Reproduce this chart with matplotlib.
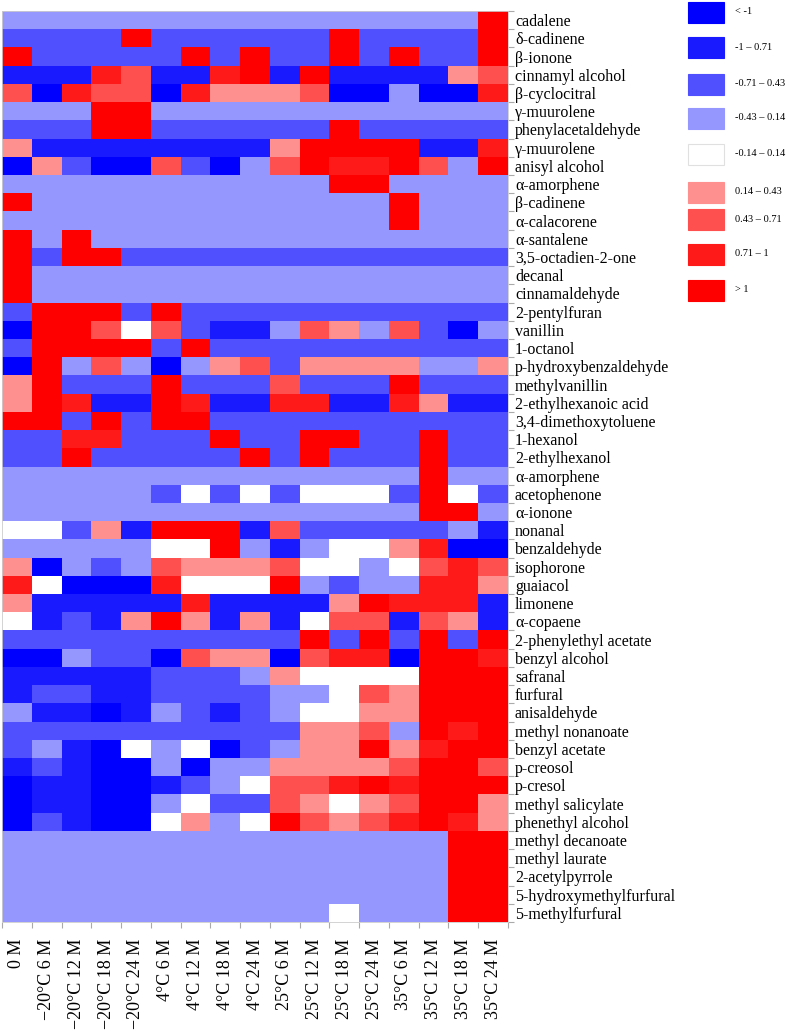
import numpy as np
import matplotlib.pyplot as plt
from matplotlib.colors import ListedColormap, BoundaryNorm
from matplotlib.patches import Rectangle

plt.rcParams['font.family'] = ['Liberation Serif', 'DejaVu Serif']

samples = ['0 M', '−20°C 6 M', '−20°C 12 M', '−20°C 18 M', '−20°C 24 M',
           '4°C 6 M', '4°C 12 M', '4°C 18 M', '4°C 24 M',
           '25°C 6 M', '25°C 12 M', '25°C 18 M', '25°C 24 M',
           '35°C 6 M', '35°C 12 M', '35°C 18 M', '35°C 24 M']

compounds = ['cadalene', 'δ-cadinene', 'β-ionone', 'cinnamyl alcohol', 'β-cyclocitral',
             'γ-muurolene', 'phenylacetaldehyde', 'γ-muurolene', 'anisyl alcohol',
             'α-amorphene', 'β-cadinene', 'α-calacorene', 'α-santalene',
             '3,5-octadien-2-one', 'decanal', 'cinnamaldehyde', '2-pentylfuran',
             'vanillin', '1-octanol', 'p-hydroxybenzaldehyde', 'methylvanillin',
             '2-ethylhexanoic acid', '3,4-dimethoxytoluene', '1-hexanol',
             '2-ethylhexanol', 'α-amorphene', 'acetophenone', 'α-ionone', 'nonanal',
             'benzaldehyde', 'isophorone', 'guaiacol', 'limonene', 'α-copaene',
             '2-phenylethyl acetate', 'benzyl alcohol', 'safranal', 'furfural',
             'anisaldehyde', 'methyl nonanoate', 'benzyl acetate', 'p-creosol',
             'p-cresol', 'methyl salicylate', 'phenethyl alcohol', 'methyl decanoate',
             'methyl laurate', '2-acetylpyrrole', '5-hydroxymethylfurfural',
             '5-methylfurfural']

# z-scores per compound (17 samples)
zscores = [
    [-0.3, -0.3, -0.3, -0.3, -0.3, -0.3, -0.3, -0.3, -0.3, -0.3, -0.3, -0.3, -0.3, -0.3, -0.3, -0.3, 1.2],
    [-0.6, -0.6, -0.6, -0.6, 1.2, -0.6, -0.6, -0.6, -0.6, -0.6, -0.6, 1.2, -0.6, -0.6, -0.6, -0.6, 1.2],
    [1.2, -0.6, -0.6, -0.6, -0.6, -0.6, 1.2, -0.6, 1.2, -0.6, -0.6, 1.2, -0.6, 1.2, -0.6, -0.6, 1.2],
    [-0.9, -0.9, -0.9, 0.9, 0.6, -0.9, -0.9, 0.9, 1.2, -0.9, 1.2, -0.9, -0.9, -0.9, -0.9, 0.3, 0.6],
    [0.6, -1.2, 0.9, 0.6, 0.6, -1.2, 0.9, 0.3, 0.3, 0.3, 0.6, -1.2, -1.2, -0.3, -1.2, -1.2, 0.9],
    [-0.3, -0.3, -0.3, 1.2, 1.2, -0.3, -0.3, -0.3, -0.3, -0.3, -0.3, -0.3, -0.3, -0.3, -0.3, -0.3, -0.3],
    [-0.6, -0.6, -0.6, 1.2, 1.2, -0.6, -0.6, -0.6, -0.6, -0.6, -0.6, 1.2, -0.6, -0.6, -0.6, -0.6, -0.6],
    [0.3, -0.9, -0.9, -0.9, -0.9, -0.9, -0.9, -0.9, -0.9, 0.3, 1.2, 1.2, 1.2, 1.2, -0.9, -0.9, 0.9],
    [-1.2, 0.3, -0.6, -1.2, -1.2, 0.6, -0.6, -1.2, -0.3, 0.6, 1.2, 0.9, 0.9, 1.2, 0.6, -0.3, 1.2],
    [-0.3, -0.3, -0.3, -0.3, -0.3, -0.3, -0.3, -0.3, -0.3, -0.3, -0.3, 1.2, 1.2, -0.3, -0.3, -0.3, -0.3],
    [1.2, -0.3, -0.3, -0.3, -0.3, -0.3, -0.3, -0.3, -0.3, -0.3, -0.3, -0.3, -0.3, 1.2, -0.3, -0.3, -0.3],
    [-0.3, -0.3, -0.3, -0.3, -0.3, -0.3, -0.3, -0.3, -0.3, -0.3, -0.3, -0.3, -0.3, 1.2, -0.3, -0.3, -0.3],
    [1.2, -0.3, 1.2, -0.3, -0.3, -0.3, -0.3, -0.3, -0.3, -0.3, -0.3, -0.3, -0.3, -0.3, -0.3, -0.3, -0.3],
    [1.2, -0.6, 1.2, 1.2, -0.6, -0.6, -0.6, -0.6, -0.6, -0.6, -0.6, -0.6, -0.6, -0.6, -0.6, -0.6, -0.6],
    [1.2, -0.3, -0.3, -0.3, -0.3, -0.3, -0.3, -0.3, -0.3, -0.3, -0.3, -0.3, -0.3, -0.3, -0.3, -0.3, -0.3],
    [1.2, -0.3, -0.3, -0.3, -0.3, -0.3, -0.3, -0.3, -0.3, -0.3, -0.3, -0.3, -0.3, -0.3, -0.3, -0.3, -0.3],
    [-0.6, 1.2, 1.2, 1.2, -0.6, 1.2, -0.6, -0.6, -0.6, -0.6, -0.6, -0.6, -0.6, -0.6, -0.6, -0.6, -0.6],
    [-1.2, 1.2, 1.2, 0.6, 0.0, 0.6, -0.6, -0.9, -0.9, -0.3, 0.6, 0.3, -0.3, 0.6, -0.6, -1.2, -0.3],
    [-0.6, 1.2, 1.2, 1.2, 1.2, -0.6, 1.2, -0.6, -0.6, -0.6, -0.6, -0.6, -0.6, -0.6, -0.6, -0.6, -0.6],
    [-1.2, 1.2, -0.3, 0.6, -0.3, -1.2, -0.3, 0.3, 0.6, -0.6, 0.3, 0.3, 0.3, 0.3, -0.3, -0.3, 0.3],
    [0.3, 1.2, -0.6, -0.6, -0.6, 1.2, -0.6, -0.6, -0.6, 0.6, -0.6, -0.6, -0.6, 1.2, -0.6, -0.6, -0.6],
    [0.3, 1.2, 0.9, -0.9, -0.9, 1.2, 0.9, -0.9, -0.9, 0.9, 0.9, -0.9, -0.9, 0.9, 0.3, -0.9, -0.9],
    [1.2, 1.2, -0.6, 1.2, -0.6, 1.2, 1.2, -0.6, -0.6, -0.6, -0.6, -0.6, -0.6, -0.6, -0.6, -0.6, -0.6],
    [-0.6, -0.6, 0.9, 0.9, -0.6, -0.6, -0.6, 1.2, -0.6, -0.6, 1.2, 1.2, -0.6, -0.6, 1.2, -0.6, -0.6],
    [-0.6, -0.6, 1.2, -0.6, -0.6, -0.6, -0.6, -0.6, 1.2, -0.6, 1.2, -0.6, -0.6, -0.6, 1.2, -0.6, -0.6],
    [-0.3, -0.3, -0.3, -0.3, -0.3, -0.3, -0.3, -0.3, -0.3, -0.3, -0.3, -0.3, -0.3, -0.3, 1.2, -0.3, -0.3],
    [-0.3, -0.3, -0.3, -0.3, -0.3, -0.6, 0.0, -0.6, 0.0, -0.6, 0.0, 0.0, 0.0, -0.6, 1.2, 0.0, -0.6],
    [-0.3, -0.3, -0.3, -0.3, -0.3, -0.3, -0.3, -0.3, -0.3, -0.3, -0.3, -0.3, -0.3, -0.3, 1.2, 1.2, -0.3],
    [0.0, 0.0, -0.6, 0.3, -0.9, 1.2, 1.2, 1.2, -0.9, 0.6, -0.6, -0.6, -0.6, -0.6, -0.6, -0.3, -0.9],
    [-0.3, -0.3, -0.3, -0.3, -0.3, 0.0, 0.0, 1.2, -0.3, -0.9, -0.3, 0.0, 0.0, 0.3, 0.9, -1.2, -1.2],
    [0.3, -1.2, -0.3, -0.6, -0.3, 0.6, 0.3, 0.3, 0.3, 0.6, 0.0, 0.0, -0.3, 0.0, 0.6, 0.9, 0.6],
    [0.9, 0.0, -1.2, -1.2, -1.2, 0.9, 0.0, 0.0, 0.0, 1.2, -0.3, -0.6, -0.3, -0.3, 0.9, 0.9, 0.3],
    [0.3, -0.9, -0.9, -0.9, -0.9, -0.9, 0.9, -0.9, -0.9, -0.9, -0.9, 0.3, 1.2, 0.9, 0.9, 0.9, -0.9],
    [0.0, -0.9, -0.6, -0.9, 0.3, 1.2, 0.3, -0.9, 0.3, -0.9, 0.0, 0.6, 0.6, -0.9, 0.6, 0.3, -0.9],
    [-0.6, -0.6, -0.6, -0.6, -0.6, -0.6, -0.6, -0.6, -0.6, -0.6, 1.2, -0.6, 1.2, -0.6, 1.2, -0.6, 1.2],
    [-1.2, -1.2, -0.3, -0.6, -0.6, -1.2, 0.6, 0.3, 0.3, -1.2, 0.6, 0.9, 0.9, -1.2, 1.2, 1.2, 0.9],
    [-0.9, -0.9, -0.9, -0.9, -0.9, -0.6, -0.6, -0.6, -0.3, 0.3, 0.0, 0.0, 0.0, 0.0, 1.2, 1.2, 1.2],
    [-0.9, -0.6, -0.6, -0.9, -0.9, -0.6, -0.6, -0.6, -0.6, -0.3, -0.3, 0.0, 0.6, 0.3, 1.2, 1.2, 1.2],
    [-0.3, -0.9, -0.9, -1.2, -0.9, -0.3, -0.6, -0.9, -0.6, -0.3, 0.0, 0.0, 0.3, 0.3, 1.2, 1.2, 1.2],
    [-0.6, -0.6, -0.6, -0.6, -0.6, -0.6, -0.6, -0.6, -0.6, -0.6, 0.3, 0.3, 0.6, -0.3, 1.2, 0.9, 1.2],
    [-0.6, -0.3, -0.9, -1.2, 0.0, -0.3, 0.0, -1.2, -0.6, -0.3, 0.3, 0.3, 1.2, 0.3, 0.9, 1.2, 1.2],
    [-0.9, -0.6, -0.9, -1.2, -1.2, -0.3, -1.2, -0.3, -0.3, 0.3, 0.3, 0.3, 0.3, 0.6, 1.2, 1.2, 0.6],
    [-1.2, -0.9, -0.9, -1.2, -1.2, -0.9, -0.6, -0.3, 0.0, 0.6, 0.6, 0.9, 1.2, 0.9, 1.2, 1.2, 1.2],
    [-1.2, -0.9, -0.9, -1.2, -1.2, -0.3, 0.0, -0.6, -0.6, 0.6, 0.3, 0.0, 0.3, 0.6, 1.2, 1.2, 0.3],
    [-1.2, -0.6, -0.9, -1.2, -1.2, 0.0, 0.3, -0.3, 0.0, 1.2, 0.6, 0.3, 0.6, 0.9, 1.2, 0.9, 0.3],
    [-0.3, -0.3, -0.3, -0.3, -0.3, -0.3, -0.3, -0.3, -0.3, -0.3, -0.3, -0.3, -0.3, -0.3, -0.3, 1.2, 1.2],
    [-0.3, -0.3, -0.3, -0.3, -0.3, -0.3, -0.3, -0.3, -0.3, -0.3, -0.3, -0.3, -0.3, -0.3, -0.3, 1.2, 1.2],
    [-0.3, -0.3, -0.3, -0.3, -0.3, -0.3, -0.3, -0.3, -0.3, -0.3, -0.3, -0.3, -0.3, -0.3, -0.3, 1.2, 1.2],
    [-0.3, -0.3, -0.3, -0.3, -0.3, -0.3, -0.3, -0.3, -0.3, -0.3, -0.3, -0.3, -0.3, -0.3, -0.3, 1.2, 1.2],
    [-0.3, -0.3, -0.3, -0.3, -0.3, -0.3, -0.3, -0.3, -0.3, -0.3, -0.3, 0.0, -0.3, -0.3, -0.3, 1.2, 1.2],
]

bounds = [-10, -1, -0.71, -0.43, -0.14, 0.14, 0.43, 0.71, 1, 10]
class_colors = ['#0000ff', '#1a1aff', '#5050ff', '#9696ff', '#ffffff',
                '#ff9090', '#ff5050', '#ff1a1a', '#ff0000']
class_labels = ['< -1', '-1 – 0.71', '-0.71 – 0.43', '-0.43 – 0.14', '-0.14 – 0.14',
                '0.14 – 0.43', '0.43 – 0.71', '0.71 – 1', '> 1']

cmap = ListedColormap(class_colors)
norm = BoundaryNorm(bounds, cmap.N)

W, H = 789, 1031
fig = plt.figure(figsize=(W / 100, H / 100), dpi=100)
ax = fig.add_axes([2 / W, 1 - 922 / H, 506 / W, 911 / H])

data = np.array(zscores)
ax.pcolormesh(data, cmap=cmap, norm=norm)
ax.set_xlim(0, len(samples))
ax.set_ylim(len(compounds), 0)

ax.yaxis.tick_right()
ax.set_yticks(np.arange(len(compounds)) + 0.5)
ax.set_yticklabels(compounds, fontsize=11.5)
ax.set_xticks(np.arange(len(samples)) + 0.5)
ax.set_xticklabels(samples, rotation=90, fontsize=13, va='top')
ax.tick_params(which='major', length=0)
ax.tick_params(axis='y', which='major', pad=5)
ax.tick_params(axis='x', which='major', pad=12)
ax.set_xticks(np.arange(len(samples) + 1), minor=True)
ax.set_yticks(np.arange(len(compounds) + 1), minor=True)
ax.tick_params(which='minor', length=4, color='#aaaaaa', width=0.8)
for s in ax.spines.values():
    s.set_color('#cccccc')
    s.set_linewidth(0.6)

# legend boxes
centers = [12, 47, 84, 118, 154, 192, 219, 254, 290]
for c, col, lab in zip(centers, class_colors, class_labels):
    ec = '#e0e0e0' if col == '#ffffff' else col
    fig.add_artist(Rectangle((688 / W, 1 - (c + 10.5) / H), 36 / W, 21 / H,
                             transform=fig.transFigure, facecolor=col,
                             edgecolor=ec, linewidth=0.8))
    fig.text(735 / W, 1 - c / H, lab, fontsize=7.5, va='center', ha='left')

fig.savefig('out.png', dpi=100)
